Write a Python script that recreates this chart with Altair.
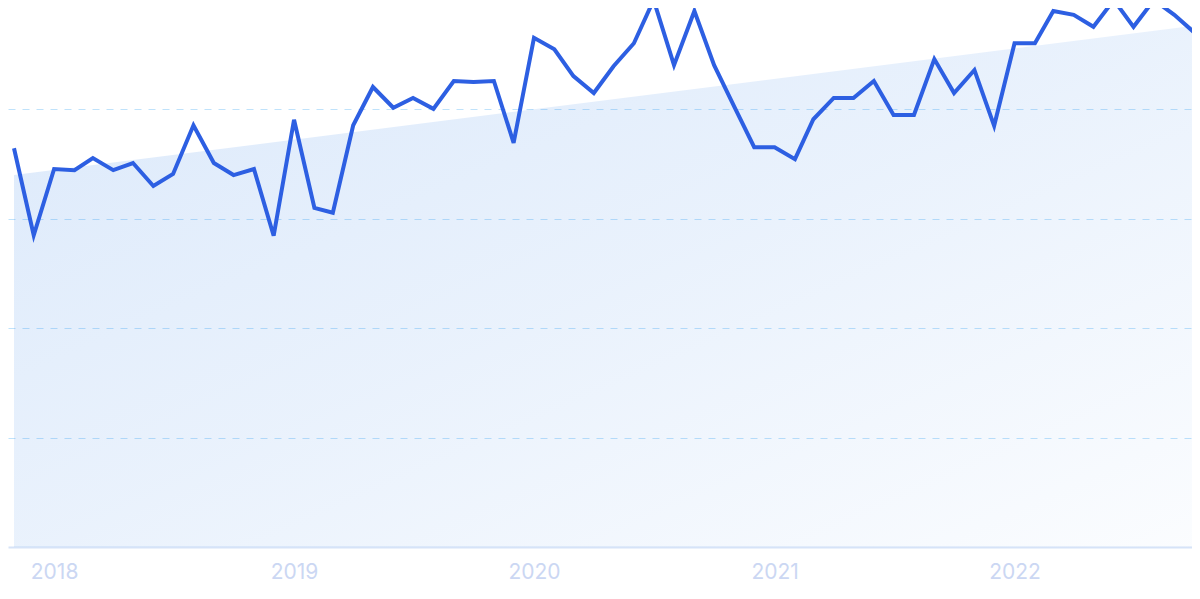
import altair as alt
import pandas as pd

# Monthly series, Nov 2017 .. Oct 2022
months = pd.date_range("2017-11-01", "2022-10-01", freq="MS").strftime("%Y-%m-%d").tolist()
values = [
    72.9, 57.0, 69.1, 68.9, 71.1, 68.9, 70.2, 66.0, 68.2, 77.1,
    70.2, 68.0, 69.1, 56.9, 78.1, 62.0, 61.1, 77.1, 84.1, 80.3,
    82.1, 80.1, 85.2, 85.0, 85.2, 73.9, 93.1, 91.0, 86.1, 83.0,
    87.9, 92.1, 100.0, 88.1, 98.0, 88.1, 80.4, 73.1, 73.1, 70.9,
    78.2, 82.1, 82.1, 85.2, 79.0, 79.0, 89.2, 83.0, 87.2, 77.0,
    92.1, 92.1, 98.0, 97.3, 95.1, 100.0, 95.1, 100.0, 97.3, 94.1,
]

# Trend band (straight line under the series)
trend_dates = ["2017-11-01", "2022-10-01"]
trend_values = [68.0, 95.3]

grid_values = [20, 40, 60, 80]
year_ticks = [2018, 2019, 2020, 2021, 2022]

df = pd.DataFrame({"date": months, "value": values})
trend_df = pd.DataFrame({"date": trend_dates, "value": trend_values})

x_scale = alt.Scale(
    type="utc",
    domain=[
        alt.DateTime(year=2017, month=10, date=22, hours=21, utc=True),
        alt.DateTime(year=2022, month=9, date=27, hours=23, utc=True),
    ],
)
y_scale = alt.Scale(domain=[0, 98.54], nice=False, zero=False)

x_axis = alt.Axis(
    title=None,
    values=[alt.DateTime(year=y, month=1, date=1, utc=True) for y in year_ticks],
    format="%Y",
    ticks=False,
    grid=False,
    domain=True,
    domainColor="#d6e3f8",
    domainWidth=2,
    labelColor="#cbd7f3",
    labelFont="Inter",
    labelFontSize=21,
    labelPadding=14,
)
y_axis = alt.Axis(
    title=None,
    values=grid_values,
    labels=False,
    ticks=False,
    domain=False,
    grid=True,
    gridColor="#bfe2fb",
    gridDash=[7, 7],
    gridWidth=1,
)

area = alt.Chart(trend_df).mark_area(
    fill=alt.Gradient(
        gradient="linear",
        x1=0, y1=0, x2=1, y2=1,
        stops=[
            alt.GradientStop(color="rgba(44,125,230,0.17)", offset=0),
            alt.GradientStop(color="rgba(44,125,230,0.10)", offset=0.5),
            alt.GradientStop(color="rgba(44,125,230,0.02)", offset=1),
        ],
    ),
    clip=True,
).encode(
    x=alt.X("date:T", scale=x_scale, axis=x_axis),
    y=alt.Y("value:Q", scale=y_scale, axis=y_axis),
)

line = alt.Chart(df).mark_line(
    color="#2d5fe2",
    strokeWidth=4,
    strokeJoin="miter",
    clip=True,
).encode(
    x=alt.X("date:T", scale=x_scale),
    y=alt.Y("value:Q", scale=y_scale),
)

chart = (
    alt.layer(area, line)
    .properties(width=1184, height=539, padding=0, background="white")
    .configure_view(stroke=None)
)

chart.save("out.html", embed_options={"renderer": "svg", "actions": False})
